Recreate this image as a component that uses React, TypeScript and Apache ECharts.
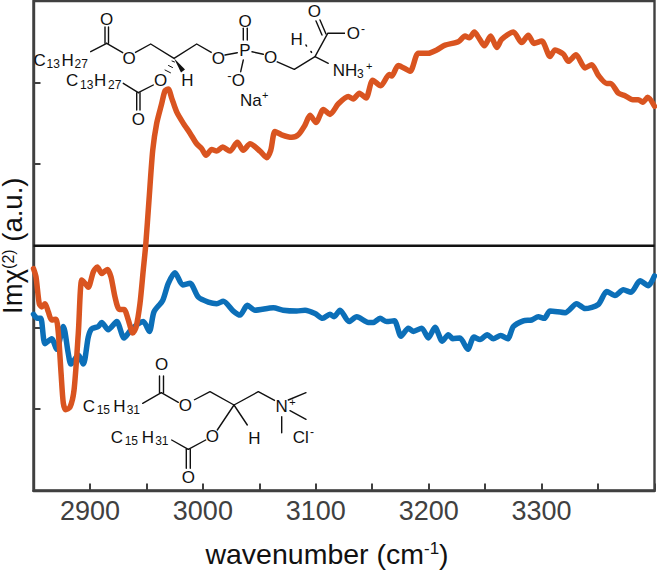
import React, { useEffect, useRef } from "react";
import * as echarts from "echarts";

const orangeWavenumber = [2850,2852.2,2855.1,2857.3,2860.2,2863.1,2866.1,2869.9,2872,2874.4,2876.4,2878.5,2882.3,2885.9,2889.7,2892.7,2895.6,2898.5,2903,2906.5,2910.4,2915.4,2918.6,2922.2,2926,2930.2,2934,2937.9,2940.8,2944.3,2947.2,2949.4,2952.3,2955.6,2959.1,2963.5,2966.5,2969.4,2972.4,2976.8,2982.7,2988.6,2994.5,2999,3002.8,3007.8,3012.3,3017.6,3024,3030.5,3035.8,3041.8,3050.6,3056.5,3060.1,3063.9,3069.8,3078.7,3084.5,3090.5,3094.9,3100.2,3106.7,3112.6,3120,3128.8,3133.2,3138.6,3144.5,3150.4,3157.5,3165.1,3167.3,3173.1,3183.5,3190.8,3199.7,3207.1,3214.5,3226.2,3232.2,3236,3240.4,3244.8,3249.3,3254.9,3260.3,3264.7,3275,3282.4,3288.2,3293.3,3300.1,3307.5,3311.9,3319.2,3323.7,3330.5,3338.5,3344.4,3350.2,3357.7,3361.2,3368,3373.9,3380.7,3385.7,3389.6,3394,3400];
const orangeSignal = [-0.28,-0.38,-0.71,-0.75,-0.71,-0.81,-0.91,-0.9,-1.07,-1.56,-1.93,-2.01,-1.98,-1.77,-1.07,-0.42,-0.46,-0.51,-0.32,-0.26,-0.34,-0.29,-0.38,-0.63,-0.78,-0.78,-0.91,-1.07,-1,-0.71,-0.3,0.01,0.56,1.17,1.5,1.74,1.9,1.92,1.81,1.64,1.5,1.38,1.25,1.19,1.11,1.18,1.16,1.21,1.16,1.27,1.17,1.25,1.16,1.08,1.17,1.4,1.36,1.33,1.36,1.48,1.6,1.51,1.67,1.61,1.74,1.83,1.8,1.87,1.81,2.03,1.96,2.1,2.08,2.21,2.14,2.36,2.36,2.4,2.46,2.5,2.57,2.55,2.62,2.54,2.45,2.57,2.43,2.53,2.62,2.49,2.58,2.48,2.51,2.32,2.4,2.35,2.26,2.34,2.18,2.22,2.09,1.99,1.99,1.87,1.84,1.79,1.79,1.76,1.82,1.71];
const blueWavenumber = [2850,2853.4,2856.4,2860.2,2866.1,2870.5,2876.4,2880.8,2883.2,2889.7,2894.1,2898.5,2901.5,2907.4,2910.4,2916.2,2923.7,2930.2,2937,2947.2,2952.6,2956.7,2964.4,2969.4,2975.3,2982.1,2988.6,2996,3004.8,3012.3,3018.1,3027,3032.9,3039.4,3046.2,3062.4,3071.2,3083.1,3090.5,3099.3,3106.1,3112.6,3116.2,3121.5,3129.4,3136.3,3146.5,3151,3156.9,3162.8,3169.6,3175.5,3182,3186.4,3193.8,3199.7,3205.6,3212.1,3217.4,3221.3,3227.7,3234.6,3240.1,3245.5,3251.9,3257.2,3263.8,3270,3275,3283.8,3291.2,3297.1,3302.4,3307.5,3320.8,3331.1,3338.5,3350.2,3357.7,3365,3372.4,3379.2,3387.2,3394.5,3400];
const blueSignal = [-0.84,-0.89,-0.89,-1.2,-1.14,-1.27,-0.99,-1.32,-1.45,-1.34,-1.45,-1.12,-1.02,-0.99,-0.94,-1.03,-0.93,-1.13,-1.02,-0.93,-1.05,-0.81,-0.67,-0.46,-0.33,-0.48,-0.46,-0.63,-0.69,-0.71,-0.68,-0.8,-0.85,-0.73,-0.79,-0.76,-0.79,-0.8,-0.79,-0.83,-0.89,-0.84,-0.87,-0.79,-0.93,-0.87,-0.94,-0.94,-0.89,-0.93,-0.92,-1.11,-1.01,-1.05,-1.01,-1.13,-1,-1.17,-1.09,-1.14,-1.13,-1.27,-1.12,-1.15,-1.09,-1.14,-1.1,-1.14,-0.99,-0.92,-0.91,-0.87,-0.89,-0.8,-0.82,-0.71,-0.77,-0.72,-0.56,-0.61,-0.54,-0.57,-0.43,-0.49,-0.37];
const zeroLine = [[2850, 0], [3400, 0]];
const tickLabels = [2900, 3000, 3100, 3200, 3300];

const FONT = "Liberation Sans";
const AXIS = "#404040";

const seg = (x1: number, y1: number, x2: number, y2: number, w = 1.4) => ({
  type: "line",
  silent: true,
  z: 20,
  shape: { x1, y1, x2, y2 },
  style: { stroke: "#111", lineWidth: w, lineCap: "round" },
});
const chain = (pts: number[][]) => ({
  type: "polyline",
  silent: true,
  z: 20,
  shape: { points: pts },
  style: { stroke: "#111", lineWidth: 1.4, fill: "none", lineJoin: "round" },
});
const label = (text: string, x: number, y: number, size = 17, align = "center") => ({
  type: "text",
  silent: true,
  z: 21,
  x,
  y,
  style: { text, font: `${size}px "${FONT}"`, fill: "#111", align, verticalAlign: "middle" },
});
const chainLabel = (x: number, y: number, a: string, b: string, gaps: number[]) => [
  label("C", x, y, 17, "left"),
  label(a, x + gaps[0], y + 4, 12, "left"),
  label("H", x + gaps[1], y, 17, "left"),
  label(b, x + gaps[2], y + 4, 12, "left"),
];

const topMolecule = [
  ...chainLabel(33.5, 60, "13", "27", [13, 28, 41]),
  ...chainLabel(66, 80.5, "13", "27", [14, 28, 42]),
  seg(90.7, 51.7, 106.7, 43.3),
  seg(105, 43.3, 105, 27),
  seg(108.5, 43.3, 108.5, 27),
  seg(106.7, 43.3, 122.7, 52.7),
  label("O", 106.7, 19.3),
  label("O", 129, 58.3),
  chain([[135, 52.7], [150.7, 44], [174, 58.3], [196.7, 44], [211.7, 52.7]]),
  { type: "polygon", silent: true, z: 20, shape: { points: [[174, 58.3], [181, 72.5], [185, 69.5]] }, style: { fill: "#111" } },
  seg(172, 61, 174.5, 62, 1),
  seg(168.5, 65.5, 172.5, 67.5, 1),
  seg(165, 70, 170.5, 72.8, 1),
  label("O", 160.7, 80),
  label("H", 187.3, 80.7),
  seg(153.3, 85, 138.3, 92.7),
  seg(123.3, 83.3, 138.3, 92.7),
  seg(136.7, 92.7, 136.7, 110),
  seg(140, 92.7, 140, 110),
  label("O", 138.3, 119),
  label("O", 218.3, 58.3),
  seg(225, 55, 237.3, 52.7),
  label("P", 245, 50),
  seg(243.3, 40, 243.3, 28.3),
  seg(247.3, 40, 247.3, 28.3),
  label("O", 245, 21.7),
  seg(252, 51.7, 263.3, 54.3),
  label("O", 270.7, 57.3),
  seg(243.3, 60, 240.7, 71.7),
  label("O", 238.3, 80),
  label("-", 229.5, 75, 13),
  label("Na", 240, 100, 17, "left"),
  label("+", 262, 95, 11, "left"),
  chain([[276.7, 61.7], [294.3, 69.3], [315, 56.7], [327.7, 33.3], [345, 33.3]]),
  seg(326, 34, 320, 20),
  seg(322, 35, 316, 21),
  label("O", 314.3, 11.7),
  label("O", 353.3, 33.3),
  label("-", 363, 29, 12),
  seg(315, 56.7, 328.3, 63.3),
  label("H", 296.7, 39.3),
  seg(306, 45, 306.5, 46, 1.6),
  seg(311, 51.5, 311.5, 52.3, 1.6),
  label("N", 332.7, 70, 17, "left"),
  label("H", 345, 70, 17, "left"),
  label("3", 357, 74, 12, "left"),
  label("+", 366, 66, 11, "left"),
];

const bottomMolecule = [
  ...chainLabel(82.7, 406, "15", "31", [14, 30.5, 44]),
  ...chainLabel(110.7, 437, "15", "31", [14, 31, 44.5]),
  label("O", 161.7, 364.3),
  seg(159.5, 392.7, 159.5, 376),
  seg(163.5, 392.7, 163.5, 376),
  seg(142.7, 403.3, 161.3, 392.7),
  seg(161.3, 392.7, 178.3, 402.3),
  label("O", 185.3, 405.7),
  chain([[194, 400], [210, 391.7], [234, 405], [258.3, 391.7], [275, 400.7]]),
  label("N", 281.7, 406),
  label("+", 292.5, 402, 11),
  seg(288.3, 400, 306, 392.7),
  seg(290, 410.7, 306, 419.3),
  seg(281.7, 416.7, 281.7, 432.7),
  seg(234, 405, 247.3, 425),
  label("H", 254.3, 438.3),
  seg(234, 405, 217.3, 430),
  label("O", 212.3, 436.7),
  seg(205.7, 440, 188.3, 449.3),
  seg(171.7, 440, 188.3, 449.3),
  seg(186.3, 449.3, 186.3, 468.3),
  seg(190.3, 449.3, 190.3, 468.3),
  label("O", 188.3, 477.7),
  label("Cl", 292.7, 437, 17, "left"),
  label("-", 312, 432, 12),
];

export default function App() {
  const ref = useRef<HTMLDivElement>(null);
  useEffect(() => {
    document.body.style.margin = "0";
    const chart = echarts.init(ref.current!, undefined, { renderer: "svg" });
    const orange = orangeWavenumber.map((x, i) => [x, orangeSignal[i]]);
    const blue = blueWavenumber.map((x, i) => [x, blueSignal[i]]);
    const lineBase = { type: "line", showSymbol: false, symbol: "none", smooth: 0.25, silent: true };
    chart.setOption({
      animation: false,
      backgroundColor: "#fff",
      textStyle: { fontFamily: FONT },
      grid: { left: 33.5, right: 2.5, top: 1, bottom: 79.5, outerBoundsMode: "none", containLabel: false, show: true, borderColor: AXIS, borderWidth: 2.4, backgroundColor: "transparent" },
      xAxis: {
        type: "value",
        min: 2850,
        max: 3400,
        interval: 50,
        splitLine: { show: false },
        axisLine: { show: true, onZero: false, lineStyle: { color: AXIS, width: 2.4 } },
        axisTick: { show: true, inside: true, length: 7, lineStyle: { color: AXIS, width: 2 } },
        axisLabel: {
          color: AXIS,
          fontSize: 27,
          fontFamily: FONT,
          margin: 7,
          hideOverlap: false,
          formatter: (v: number) => (tickLabels.includes(v) ? String(v) : ""),
        },
        name: "{a|wavenumber (cm}{s|-1}{a|)}",
        nameLocation: "middle",
        nameGap: 49,
        nameTextStyle: {
          padding: [0, 34, 0, 0],
          rich: {
            a: { fontSize: 28.5, fontFamily: FONT, color: "#111" },
            s: { fontSize: 17, fontFamily: FONT, color: "#111", verticalAlign: "top", lineHeight: 28 },
          },
        },
      },
      yAxis: {
        type: "value",
        min: -3,
        max: 3,
        interval: 1,
        splitLine: { show: false },
        axisLine: { show: true, onZero: false, lineStyle: { color: AXIS, width: 2.4 } },
        axisTick: { show: true, inside: true, length: 7, lineStyle: { color: AXIS, width: 2 } },
        axisLabel: { show: false },
        name: "{a|Imχ}{s|(2)}{a| (a.u.)}",
        nameLocation: "middle",
        nameGap: 9,
        nameTextStyle: {
          rich: {
            a: { fontSize: 27.5, fontFamily: FONT, color: "#111", lineHeight: 24 },
            s: { fontSize: 16, fontFamily: FONT, color: "#111", verticalAlign: "top", lineHeight: 17 },
          },
        },
      },
      series: [
        { ...lineBase, name: "zero", data: zeroLine, smooth: false, z: 1, lineStyle: { color: "#111", width: 2.6 } },
        { ...lineBase, name: "DPTAP", data: blue, z: 2, lineStyle: { color: "#0C6FB8", width: 5.5, join: "round", cap: "round" } },
        { ...lineBase, name: "DMPS", data: orange, z: 3, lineStyle: { color: "#D95420", width: 5.5, join: "round", cap: "round" } },
      ],
      graphic: { elements: [...topMolecule, ...bottomMolecule] },
    });
    return () => chart.dispose();
  }, []);
  return <div ref={ref} style={{ position: "absolute", left: 0, top: 0, width: 657, height: 570 }} />;
}
